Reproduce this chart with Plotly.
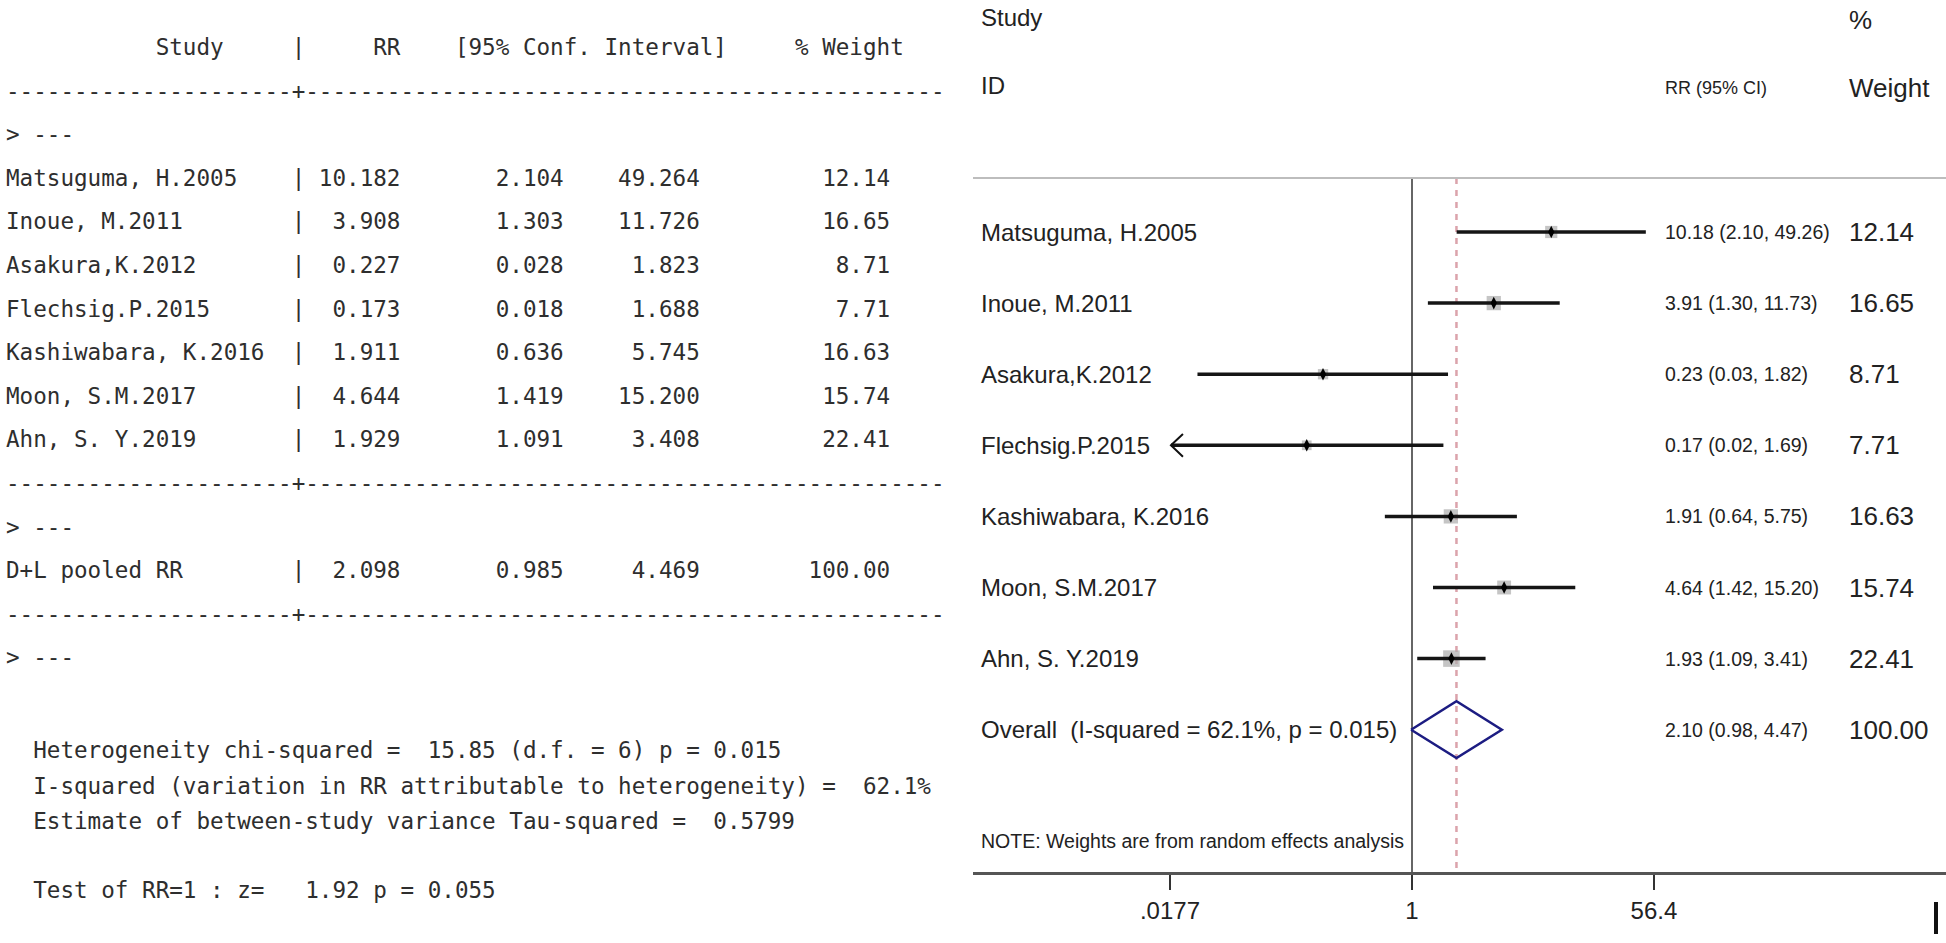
import math
import plotly.graph_objects as go

# ---------------- data ----------------
studies = ["Matsuguma, H.2005", "Inoue, M.2011", "Asakura,K.2012", "Flechsig.P.2015",
           "Kashiwabara, K.2016", "Moon, S.M.2017", "Ahn, S. Y.2019"]
rr = [10.182, 3.908, 0.227, 0.173, 1.911, 4.644, 1.929]
ci_low = [2.104, 1.303, 0.028, 0.018, 0.636, 1.419, 1.091]
ci_high = [49.264, 11.726, 1.823, 1.688, 5.745, 15.200, 3.408]
weights = [12.14, 16.65, 8.71, 7.71, 16.63, 15.74, 22.41]
arrow_left = [False, False, False, True, False, False, False]

pooled_label = "D+L pooled RR"
pooled = [2.098, 0.985, 4.469, 100.00]     # RR, low, high, weight

ci_text = ["10.18 (2.10, 49.26)", "3.91 (1.30, 11.73)", "0.23 (0.03, 1.82)", "0.17 (0.02, 1.69)",
           "1.91 (0.64, 5.75)", "4.64 (1.42, 15.20)", "1.93 (1.09, 3.41)"]
pooled_ci_text = "2.10 (0.98, 4.47)"

het_chi2, het_df, het_p = 15.85, 6, 0.015
i2 = 62.1
tau2 = 0.5799
z_val, z_p = 1.92, 0.055

tick_vals = [0.0177, 1, 56.4]
tick_text = [".0177", "1", "56.4"]

# ---------------- geometry helpers ----------------
W, H = 1946, 943
def px(x):
    return x / W
def py(y):
    return 1 - y / H

ROW0_PX = 232.0        # pixel y of first study row
ROW_PX = 71.1          # pixel distance between rows
def row_of(pix):
    return 1 + (pix - ROW0_PX) / ROW_PX

X_LEFT_PX, X_ONE_PX, PX_PER_LN = 973.0, 1412.0, 60.0
PX_PER_LOG10 = PX_PER_LN * math.log(10)
x_range = [(X_LEFT_PX - X_ONE_PX) / PX_PER_LOG10, (W - X_ONE_PX) / PX_PER_LOG10]
y_range = [row_of(H), row_of(0)]

RULE_PX, AXIS_PX = 178, 873
y_top, y_axis = row_of(RULE_PX), row_of(AXIS_PX)

n = len(studies)
rows = list(range(1, n + 1))
overall_row = n + 1

fig = go.Figure()

# null line and pooled dashed line
fig.add_trace(go.Scatter(x=[1, 1], y=[y_top, y_axis], mode="lines",
                         line=dict(color="#333333", width=1.5), hoverinfo="skip", showlegend=False))
fig.add_trace(go.Scatter(x=[pooled[0], pooled[0]], y=[y_top, y_axis], mode="lines",
                         line=dict(color="#dba3ab", width=2.5, dash="6px,6px"),
                         hoverinfo="skip", showlegend=False))

# weight boxes
fig.add_trace(go.Scatter(x=rr, y=rows, mode="markers",
                         marker=dict(symbol="square", size=[3.5 * math.sqrt(w) for w in weights],
                                     color="#acacac", line=dict(width=0)),
                         hoverinfo="skip", showlegend=False))

# CI lines
cx, cy = [], []
for r, lo, hi in zip(rows, ci_low, ci_high):
    cx += [lo, hi, None]
    cy += [r, r, None]
fig.add_trace(go.Scatter(x=cx, y=cy, mode="lines", line=dict(color="#151515", width=3.5),
                         hoverinfo="skip", showlegend=False))

# arrows for truncated CIs
ax, ay = [], []
for r, lo, flag in zip(rows, ci_low, arrow_left):
    if flag:
        ax += [lo * math.exp(0.2), lo, lo * math.exp(0.2), None]
        ay += [r - 0.16, r, r + 0.16, None]
fig.add_trace(go.Scatter(x=ax, y=ay, mode="lines", line=dict(color="#111111", width=2),
                         hoverinfo="skip", showlegend=False))

# point estimates
fig.add_trace(go.Scatter(x=rr, y=rows, mode="markers",
                         marker=dict(symbol="diamond-tall", size=9, color="#000000"),
                         hoverinfo="skip", showlegend=False))

# pooled diamond
fig.add_trace(go.Scatter(x=[pooled[1], pooled[0], pooled[2], pooled[0], pooled[1]],
                         y=[overall_row, overall_row - 0.4, overall_row, overall_row + 0.4, overall_row],
                         mode="lines", line=dict(color="#1c1c82", width=2.5),
                         hoverinfo="skip", showlegend=False))

ann = []
SANS = "Liberation Sans, Arial, sans-serif"
MONO = "DejaVu Sans Mono, monospace"
TXT = "#222222"

# ---- right panel text ----
def rtext(x, y, text, size, yref="paper"):
    ann.append(dict(x=px(x), y=y, xref="paper", yref=yref, text=text, showarrow=False,
                    xanchor="left", yanchor="middle", font=dict(family=SANS, size=size, color=TXT)))

rtext(979, py(17), "Study", 24)
rtext(979, py(86), "ID", 24)
rtext(1847, py(20), "%", 26)
rtext(1847, py(88), "Weight", 26)
rtext(1663, py(88), "RR (95% CI)", 18)

for r, name, ct, w in zip(rows, studies, ci_text, weights):
    rtext(979, r, name, 24, yref="y")
    rtext(1663, r, ct, 19.5, yref="y")
    rtext(1847, r, f"{w:.2f}", 26, yref="y")
rtext(979, overall_row, f"Overall  (I-squared = {i2:.1f}%, p = {het_p:.3f})", 24, yref="y")
rtext(1663, overall_row, pooled_ci_text, 19.5, yref="y")
rtext(1847, overall_row, f"{pooled[3]:.2f}", 26, yref="y")
rtext(979, py(841), "NOTE: Weights are from random effects analysis", 19.5)

# ---- left panel (Stata output) ----
NB = "\u00a0"
def mono(y, text):
    ann.append(dict(x=px(4), y=py(y), xref="paper", yref="paper", text=text.replace(" ", NB),
                    showarrow=False, xanchor="left", yanchor="middle",
                    font=dict(family=MONO, size=22.6, color="#2e2e2e")))

header = " " * 11 + "Study" + " " * 5 + "|" + " " * 5 + "RR" + " " * 4 + "[95% Conf. Interval]" + " " * 5 + "% Weight"
sep = "-" * 21 + "+" + "-" * 47
prompt = "> ---"
def row_line(name, a, b, c, w):
    return f"{name:<21}| {a:>6.3f}{b:>12.3f}{c:>10.3f}{w:>14.2f}"

lines = [header, sep, prompt]
lines += [row_line(s, a, b, c, w) for s, a, b, c, w in zip(studies, rr, ci_low, ci_high, weights)]
lines += [sep, prompt, row_line(pooled_label, *pooled), sep, prompt]
for k, t in enumerate(lines):
    mono(47 + 43.6 * k, t)

mono(750, f"  Heterogeneity chi-squared =  {het_chi2:.2f} (d.f. = {het_df}) p = {het_p:.3f}")
mono(786, f"  I-squared (variation in RR attributable to heterogeneity) =  {i2:.1f}%")
mono(821, f"  Estimate of between-study variance Tau-squared =  {tau2:.4f}")
mono(890, f"  Test of RR=1 : z=   {z_val:.2f} p = {z_p:.3f}")

shapes = [
    dict(type="line", xref="paper", yref="paper", x0=px(973), x1=1, y0=py(RULE_PX), y1=py(RULE_PX),
         line=dict(color="#bdbdbd", width=2)),
    dict(type="line", xref="paper", yref="paper", x0=px(1936), x1=px(1936), y0=py(902), y1=py(934),
         line=dict(color="#111111", width=4)),
]

fig.update_layout(
    width=W, height=H, margin=dict(l=0, r=0, t=0, b=0),
    paper_bgcolor="white", plot_bgcolor="white",
    showlegend=False, annotations=ann, shapes=shapes,
    xaxis=dict(type="log", domain=[px(X_LEFT_PX), 1], range=x_range, anchor="free",
               position=py(AXIS_PX), showline=True, linecolor="#555555", linewidth=3,
               ticks="outside", ticklen=15, tickwidth=2, tickcolor="#333333",
               tickvals=tick_vals, ticktext=tick_text, showgrid=False, zeroline=False,
               tickfont=dict(family=SANS, size=24, color="#222222")),
    yaxis=dict(range=y_range, domain=[0, 1], visible=False, showgrid=False, zeroline=False),
)

fig.write_html("out.html", config={"displayModeBar": False},
               post_script="document.body.style.margin='0';document.body.style.overflow='hidden';")
